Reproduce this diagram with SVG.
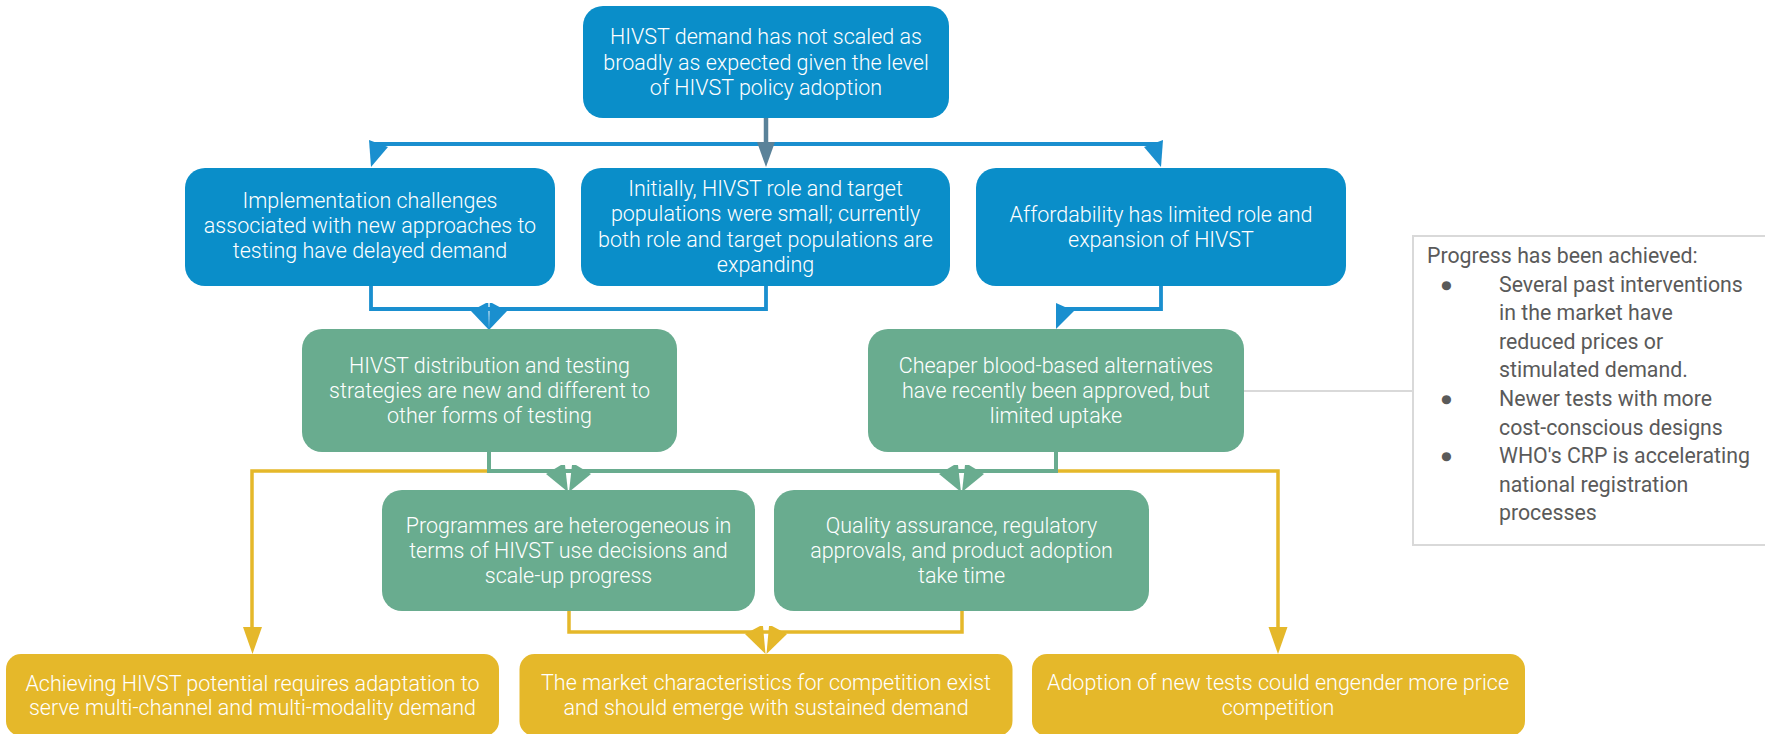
<svg xmlns="http://www.w3.org/2000/svg" width="1765" height="734" viewBox="0 0 1765 734">
<style>
.blue{fill:#0a8ec9}
.green{fill:#69ac8f}
.yellow{fill:#e5b82a}
.t{font-family:Roboto,"Liberation Sans",sans-serif;font-weight:300;font-size:21.5px;fill:#ffffff;text-anchor:middle}
.n{font-family:Roboto,"Liberation Sans",sans-serif;font-weight:400;font-size:21.3px;fill:#5a5a5a}
.cb{fill:none;stroke:#1a8fcf;stroke-width:3.8}
.cg{fill:none;stroke:#69ac8f;stroke-width:4}
.cy{fill:none;stroke:#e5b82a;stroke-width:3.5}
.hb{fill:#1a8fcf}
.hg{fill:#69ac8f}
.hy{fill:#e5b82a}
</style>
<rect width="1765" height="734" fill="#ffffff"/>
<g id="connectors">
  <!-- top fan-out -->
  <polyline class="cb" points="371,144 1161,144"/>
  <polygon class="hb" points="369,140 388,147 371,167"/>
  <polygon class="hb" points="1163,140 1144,147 1161,167"/>
  <line x1="766" y1="118" x2="766" y2="144" stroke="#5a8299" stroke-width="4.5"/>
  <polygon points="757,142 775,142 766,167" fill="#5a8299"/>
  <!-- blue to green 1 -->
  <polyline class="cb" points="371,286 371,309 766,309 766,286"/>
  <polygon class="hb" points="471,311 486,303 488.3,303 489,330"/>
  <polygon class="hb" points="489.7,303 492,303 507,311 489,330"/>
  <!-- blue to green 2 -->
  <polyline class="cb" points="1161,286 1161,309 1056,309"/>
  <polygon class="hb" points="1056,303 1074,311 1056,329"/>
  <!-- yellow from green 1 and green 2 -->
  <polyline class="cy" points="489,471 252,471 252,630"/>
  <polygon class="hy" points="243,627 262,627 252.5,654"/>
  <polyline class="cy" points="1056,471 1278,471 1278,630"/>
  <polygon class="hy" points="1268.5,627 1287.5,627 1278,654"/>
  <!-- green distribution -->
  <polyline class="cg" points="489,452 489,471 1056,471 1056,452"/>
  <polygon class="hg" points="546,474 561,465 565,465 568,492"/>
  <polygon class="hg" points="572,465 576,465 591,474 569,492"/>
  <polygon class="hg" points="939,474 954,465 958,465 961,492"/>
  <polygon class="hg" points="965,465 969,465 984,474 962,492"/>
  <!-- yellow merge -->
  <polyline class="cy" points="569,611 569,632 962,632 962,611"/>
  <polygon class="hy" points="745,634 760,626 763,626 765.5,654"/>
  <polygon class="hy" points="769,626 772,626 787,634 766.5,654"/>
  <!-- note link -->
  <line x1="1244" y1="391" x2="1413" y2="391" stroke="#d9d9d9" stroke-width="2"/>
</g>
<g id="n-top">
  <rect class="blue" x="583" y="6" width="366" height="112" rx="20"/>
  <text class="t" x="766" y="44">HIVST demand has not scaled as</text>
  <text class="t" x="766" y="70">broadly as expected given the level</text>
  <text class="t" x="766" y="95">of HIVST policy adoption</text>
</g>
<g id="n-impl">
  <rect class="blue" x="185" y="168" width="370" height="118" rx="20"/>
  <text class="t" x="370" y="208">Implementation challenges</text>
  <text class="t" x="370" y="233">associated with new approaches to</text>
  <text class="t" x="370" y="258">testing have delayed demand</text>
</g>
<g id="n-init">
  <rect class="blue" x="581" y="168" width="369" height="118" rx="20"/>
  <text class="t" x="765.5" y="196">Initially, HIVST role and target</text>
  <text class="t" x="765.5" y="221">populations were small; currently</text>
  <text class="t" x="765.5" y="247">both role and target populations are</text>
  <text class="t" x="765.5" y="272">expanding</text>
</g>
<g id="n-afford">
  <rect class="blue" x="976" y="168" width="370" height="118" rx="20"/>
  <text class="t" x="1161" y="222">Affordability has limited role and</text>
  <text class="t" x="1161" y="247">expansion of HIVST</text>
</g>
<g id="n-dist">
  <rect class="green" x="302" y="329" width="375" height="123" rx="20"/>
  <text class="t" x="489.5" y="373">HIVST distribution and testing</text>
  <text class="t" x="489.5" y="398">strategies are new and different to</text>
  <text class="t" x="489.5" y="423">other forms of testing</text>
</g>
<g id="n-cheaper">
  <rect class="green" x="868" y="329" width="376" height="123" rx="20"/>
  <text class="t" x="1056" y="373">Cheaper blood-based alternatives</text>
  <text class="t" x="1056" y="398">have recently been approved, but</text>
  <text class="t" x="1056" y="423">limited uptake</text>
</g>
<g id="n-prog">
  <rect class="green" x="382" y="490" width="373" height="121" rx="20"/>
  <text class="t" x="568.5" y="533">Programmes are heterogeneous in</text>
  <text class="t" x="568.5" y="558">terms of HIVST use decisions and</text>
  <text class="t" x="568.5" y="583">scale-up progress</text>
</g>
<g id="n-quality">
  <rect class="green" x="774" y="490" width="375" height="121" rx="20"/>
  <text class="t" x="961.5" y="533">Quality assurance, regulatory</text>
  <text class="t" x="961.5" y="558">approvals, and product adoption</text>
  <text class="t" x="961.5" y="583">take time</text>
</g>
<g id="n-achieve">
  <rect class="yellow" x="6" y="654" width="493" height="82" rx="15"/>
  <text class="t" x="252.5" y="691">Achieving HIVST potential requires adaptation to</text>
  <text class="t" x="252.5" y="715">serve multi-channel and multi-modality demand</text>
</g>
<g id="n-market">
  <rect class="yellow" x="519.5" y="654" width="493" height="82" rx="15"/>
  <text class="t" x="766" y="690">The market characteristics for competition exist</text>
  <text class="t" x="766" y="715">and should emerge with sustained demand</text>
</g>
<g id="n-adoption">
  <rect class="yellow" x="1032" y="654" width="493" height="82" rx="15"/>
  <text class="t" x="1278" y="690">Adoption of new tests could engender more price</text>
  <text class="t" x="1278" y="715">competition</text>
</g>
<g id="n-note">
  <rect x="1413" y="236" width="360" height="309" fill="#ffffff" stroke="#d9d9d9" stroke-width="2"/>
  <text class="n" x="1427" y="263">Progress has been achieved:</text>
  <text class="n" x="1440" y="291.6">●</text>
  <text class="n" x="1499" y="291.6">Several past interventions</text>
  <text class="n" x="1499" y="320.2">in the market have</text>
  <text class="n" x="1499" y="348.8">reduced prices or</text>
  <text class="n" x="1499" y="377.4">stimulated demand.</text>
  <text class="n" x="1440" y="406">●</text>
  <text class="n" x="1499" y="406">Newer tests with more</text>
  <text class="n" x="1499" y="434.6">cost-conscious designs</text>
  <text class="n" x="1440" y="463.2">●</text>
  <text class="n" x="1499" y="463.2">WHO's CRP is accelerating</text>
  <text class="n" x="1499" y="491.8">national registration</text>
  <text class="n" x="1499" y="520.4">processes</text>
</g>
</svg>
